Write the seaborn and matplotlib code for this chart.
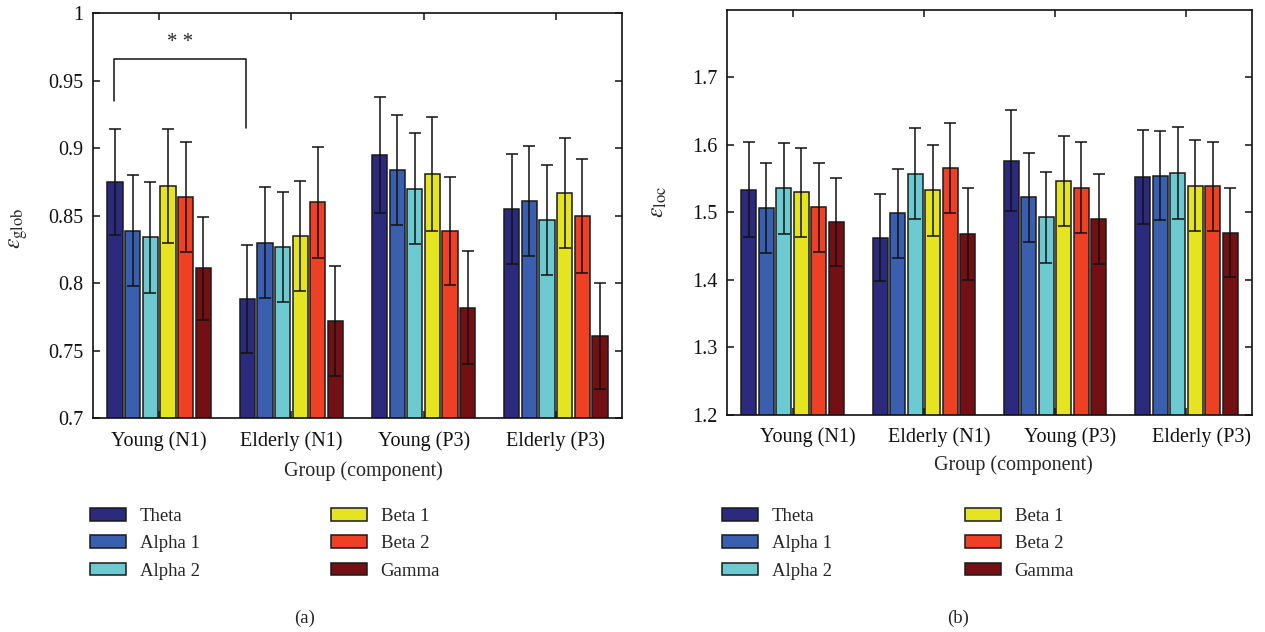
import pandas as pd
import numpy as np
import matplotlib
matplotlib.use("Agg")
import matplotlib.pyplot as plt
import matplotlib.transforms as mtransforms
from matplotlib.patches import Patch
import seaborn as sns

# data, rows = groups, columns = bands
groups = ['Young (N1)', 'Elderly (N1)', 'Young (P3)', 'Elderly (P3)']
bands = ['Theta', 'Alpha 1', 'Alpha 2', 'Beta 1', 'Beta 2', 'Gamma']
colors = ['#2b2a7c', '#3a5fae', '#6ccad0', '#e4e420', '#ee4025', '#721013']

glob_mean = [[0.875, 0.839, 0.834, 0.872, 0.864, 0.811],
             [0.788, 0.830, 0.827, 0.835, 0.860, 0.772],
             [0.895, 0.884, 0.870, 0.881, 0.839, 0.782],
             [0.855, 0.861, 0.847, 0.867, 0.850, 0.761]]
glob_err = [[0.039, 0.041, 0.041, 0.042, 0.041, 0.038],
            [0.040, 0.041, 0.041, 0.041, 0.041, 0.041],
            [0.043, 0.041, 0.041, 0.042, 0.040, 0.042],
            [0.041, 0.041, 0.041, 0.041, 0.042, 0.039]]

loc_mean = [[1.533, 1.506, 1.535, 1.529, 1.507, 1.485],
            [1.462, 1.498, 1.557, 1.532, 1.565, 1.467],
            [1.576, 1.522, 1.492, 1.546, 1.536, 1.490],
            [1.552, 1.554, 1.558, 1.539, 1.538, 1.469]]
loc_err = [[0.070, 0.067, 0.067, 0.066, 0.066, 0.065],
           [0.064, 0.066, 0.067, 0.067, 0.067, 0.068],
           [0.075, 0.066, 0.067, 0.067, 0.067, 0.067],
           [0.070, 0.066, 0.068, 0.067, 0.066, 0.066]]

glob_ticks = [0.7, 0.75, 0.8, 0.85, 0.9, 0.95, 1.0]
glob_ticklabels = ['0.7', '0.75', '0.8', '0.85', '0.9', '0.95', '1']
loc_ticks = [1.2, 1.3, 1.4, 1.5, 1.6, 1.7]
loc_ticklabels = ['1.2', '1.3', '1.4', '1.5', '1.6', '1.7']

sns.set_theme(style='ticks')
plt.rcParams['font.family'] = ['Liberation Serif', 'DejaVu Serif']
plt.rcParams['mathtext.fontset'] = 'stix'


def to_long(mean, err):
    rows = []
    for gi, g in enumerate(groups):
        for bi, b in enumerate(bands):
            rows.append({'group': g, 'band': b, 'value': mean[gi][bi], 'err': err[gi][bi]})
    return pd.DataFrame(rows)


def draw_panel(ax, mean, err, ylim, ticks, ticklabels, ylabel):
    df = to_long(mean, err)
    sns.barplot(data=df, x='group', y='value', hue='band', order=groups, hue_order=bands,
                palette=colors, saturation=1, gap=0.13, errorbar=None,
                edgecolor='#1a1a1a', linewidth=1.1, legend=False, ax=ax)
    # error bars at the dodged bar centres
    step = 0.8 / len(bands)
    for gi in range(len(groups)):
        for bi in range(len(bands)):
            xpos = gi + (bi - (len(bands) - 1) / 2) * step
            ax.errorbar(xpos, mean[gi][bi], yerr=err[gi][bi], fmt='none', ecolor='#111111',
                        elinewidth=1.1, capsize=4.5, capthick=1.1, zorder=5)
    ax.set_xlim(-0.5, 3.5)
    ax.set_ylim(*ylim)
    ax.set_yticks(ticks)
    ax.set_yticklabels(ticklabels)
    for s in ax.spines.values():
        s.set_visible(True)
        s.set_linewidth(1.2)
        s.set_color('#111111')
    ax.tick_params(direction='in', length=5, width=1.1, top=True, right=True,
                   labelsize=14.5, colors='#111111')
    ax.tick_params(axis='x', pad=9)
    ax.tick_params(axis='y', pad=7)
    ax.set_xlabel('Group (component)', fontsize=14.5)
    ax.set_ylabel(ylabel, fontsize=17)


fig = plt.figure(figsize=(12.65, 6.32), dpi=100)
W, H = 1265, 632
ax1 = fig.add_axes([93 / W, 1 - 418.3 / H, 529 / W, 405 / H])
ax2 = fig.add_axes([727 / W, 1 - 414.5 / H, 525 / W, 405 / H])

draw_panel(ax1, glob_mean, glob_err, (0.7, 1.0), glob_ticks, glob_ticklabels,
           r'$\varepsilon_{\mathrm{glob}}$')
draw_panel(ax2, loc_mean, loc_err, (1.2, 1.8), loc_ticks, loc_ticklabels,
           r'$\varepsilon_{\mathrm{loc}}$')

ax1.xaxis.set_label_coords(0.512, -0.105)
ax2.xaxis.set_label_coords(0.545, -0.1)
ax1.yaxis.set_label_coords(-0.12, 0.47)
ax2.yaxis.set_label_coords(-0.11, 0.525)

# right panel tick labels sit a bit to the right of the ticks
shift = mtransforms.ScaledTranslation(15 / 100, 0, fig.dpi_scale_trans)
for lab in ax2.get_xticklabels():
    lab.set_transform(lab.get_transform() + shift)

# significance bracket between young and elderly theta (N1)
step = 0.8 / len(bands)
xl = 0 - 2.5 * step - 0.01
xr = 1 - 2.5 * step - 0.01
ax1.plot([xl, xl, xr, xr], [0.935, 0.966, 0.966, 0.915], color='#111111', lw=1.1,
         clip_on=False)
ax1.text((xl + xr) / 2, 0.971, '* *', ha='center', va='bottom', fontsize=15)

# legends, two columns under each panel
handles = [Patch(facecolor=c, edgecolor='#1a1a1a', linewidth=1.1, label=b)
           for c, b in zip(colors, bands)]
leg_kw = dict(loc='upper left', frameon=False, fontsize=13.5, handlelength=1.9,
              handleheight=0.65, handletextpad=0.75, labelspacing=0.55,
              borderpad=0, borderaxespad=0)
for x0 in (90, 331, 722, 965):
    part = handles[:3] if x0 in (90, 722) else handles[3:]
    fig.legend(handles=part, bbox_to_anchor=(x0 / W, 1 - 508 / H), **leg_kw)

fig.text(305 / W, 1 - 618 / H, '(a)', ha='center', va='center', fontsize=13.5)
fig.text(958 / W, 1 - 618 / H, '(b)', ha='center', va='center', fontsize=13.5)

fig.savefig('out.png', dpi=100)
